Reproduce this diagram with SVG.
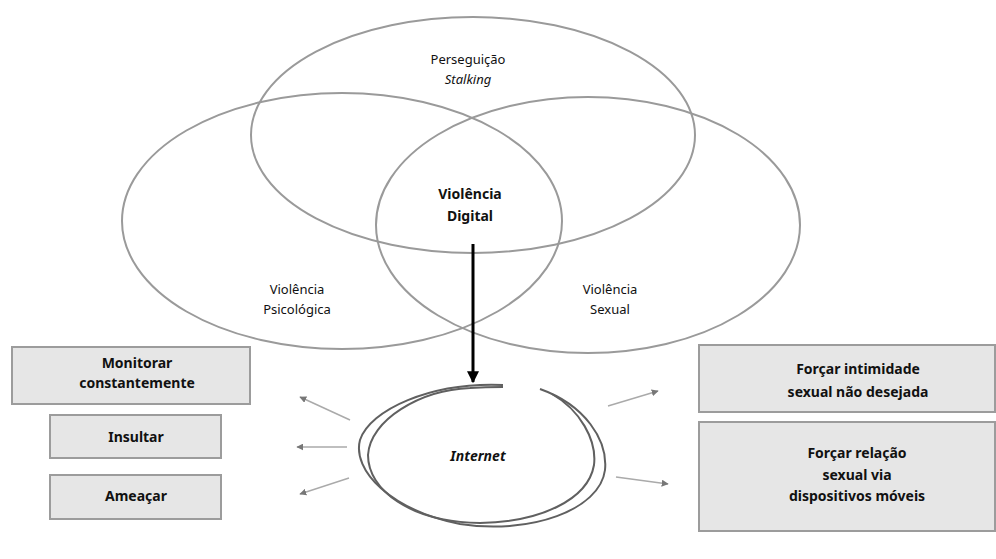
<svg xmlns="http://www.w3.org/2000/svg" width="996" height="559" viewBox="0 0 996 559">
<defs>
<style>
.ell{fill:none;stroke:#9a9a9a;stroke-width:2}
.box{fill:#e6e6e6;stroke:#9c9c9c;stroke-width:2}
.bt{font-family:"Noto Sans","Open Sans",sans-serif;font-weight:bold;font-size:14px;fill:#111;text-anchor:middle}
.lt{font-family:"Noto Sans","Open Sans",sans-serif;font-size:13px;fill:#111;text-anchor:middle}
.ga{stroke:#aaa;stroke-width:1.5;fill:none;marker-end:url(#ga)}
.hand{fill:none;stroke:#606060;stroke-width:2}
</style>
<marker id="ga" viewBox="0 0 10 10" refX="9" refY="5" markerWidth="7" markerHeight="7" markerUnits="userSpaceOnUse" orient="auto"><path d="M0,0L10,5L0,10z" fill="#777"/></marker>
<marker id="ba" viewBox="0 0 10 10" refX="9" refY="5" markerWidth="12" markerHeight="12" markerUnits="userSpaceOnUse" orient="auto"><path d="M0,0L10,5L0,10z" fill="#000"/></marker>
</defs>
<rect width="996" height="559" fill="#fff"/>
<g id="perseguicao">
<ellipse class="ell" cx="473" cy="135" rx="222" ry="118"/>
<text class="lt" x="468" y="64">Perseguição</text>
<text class="lt" x="468" y="84" font-style="italic">Stalking</text>
</g>
<g id="psicologica">
<ellipse class="ell" cx="342" cy="221" rx="220" ry="128"/>
<text class="lt" x="297" y="294">Violência</text>
<text class="lt" x="297" y="314">Psicológica</text>
</g>
<g id="sexual">
<ellipse class="ell" cx="588" cy="225" rx="212" ry="128"/>
<text class="lt" x="610" y="294">Violência</text>
<text class="lt" x="610" y="314">Sexual</text>
</g>
<g id="digital">
<text class="bt" x="470" y="199">Violência</text>
<text class="bt" x="470" y="221">Digital</text>
</g>
<g id="internet">
<path class="hand" d="M503,385 C430,382 370,410 360,440 C352,470 390,510 460,524 C530,535 600,510 605,470 C608,440 585,405 540,389"/>
<path class="hand" d="M552,394 C580,410 597,440 594,465 C588,500 540,522 480,523 C410,522 368,490 368,455 C370,420 420,390 470,388 C485,387 495,387 503,387"/>
<text class="bt" x="478" y="461" font-style="italic" font-size="15">Internet</text>
</g>
<g id="monitorar">
<rect class="box" x="12" y="347" width="238" height="57"/>
<text class="bt" x="137" y="368">Monitorar</text>
<text class="bt" x="137" y="388">constantemente</text>
</g>
<g id="insultar">
<rect class="box" x="50" y="415" width="171" height="43"/>
<text class="bt" x="136" y="442">Insultar</text>
</g>
<g id="ameacar">
<rect class="box" x="50" y="475" width="171" height="44"/>
<text class="bt" x="136" y="501">Ameaçar</text>
</g>
<g id="intimidade">
<rect class="box" x="699" y="345" width="296" height="67"/>
<text class="bt" x="858" y="374">Forçar intimidade</text>
<text class="bt" x="858" y="397">sexual não desejada</text>
</g>
<g id="relacao">
<rect class="box" x="699" y="422" width="296" height="109"/>
<text class="bt" x="857" y="458">Forçar relação</text>
<text class="bt" x="857" y="480">sexual via</text>
<text class="bt" x="857" y="501">dispositivos móveis</text>
</g>
<g id="connectors">
<line x1="473" y1="244" x2="473" y2="382" stroke="#000" stroke-width="3" marker-end="url(#ba)"/>
<line class="ga" x1="350" y1="420" x2="300" y2="397"/>
<line class="ga" x1="347" y1="447" x2="297" y2="447"/>
<line class="ga" x1="349" y1="478" x2="300" y2="494"/>
<line class="ga" x1="608" y1="406" x2="658" y2="391"/>
<line class="ga" x1="616" y1="477" x2="668" y2="484"/>
</g>
</svg>
